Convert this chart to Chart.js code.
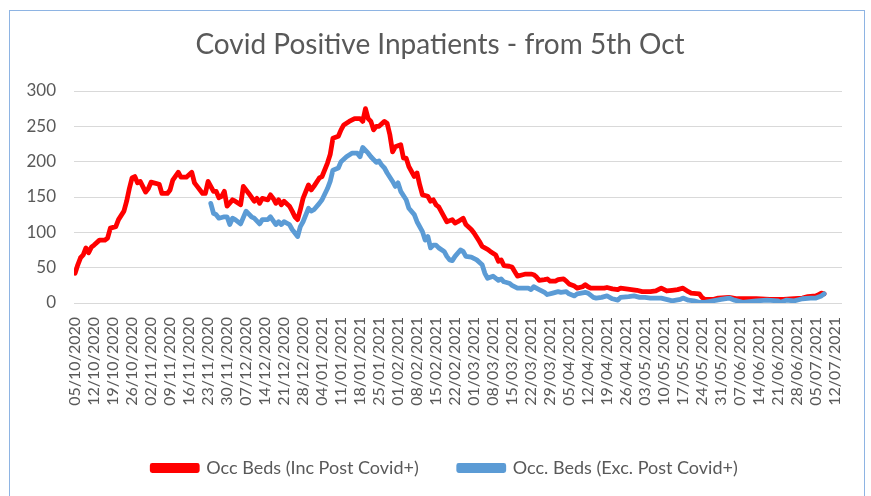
<!DOCTYPE html>
<html>
<head>
<meta charset="utf-8">
<script src="https://cdn.jsdelivr.net/npm/chart.js@4"></script>
<style>
  body { margin: 0; background: #fff; }
  #wrap { position: relative; width: 871px; height: 496px; overflow: hidden; }
  #frame { position: absolute; left: 9px; top: 10px; width: 854px; height: 520px; border: 1px solid #8eb4e3; pointer-events: none; }
</style>
</head>
<body>
<div id="wrap">
  <canvas id="bedsChart" width="871" height="496"></canvas>
  <div id="frame"></div>
</div>
<script>
// weekly axis labels (one every 7 days from 05/10/2020)
const weekLabels = ['05/10/2020','12/10/2020','19/10/2020','26/10/2020','02/11/2020','09/11/2020','16/11/2020',
  '23/11/2020','30/11/2020','07/12/2020','14/12/2020','21/12/2020','28/12/2020','04/01/2021','11/01/2021',
  '18/01/2021','25/01/2021','01/02/2021','08/02/2021','15/02/2021','22/02/2021','01/03/2021','08/03/2021',
  '15/03/2021','22/03/2021','29/03/2021','05/04/2021','12/04/2021','19/04/2021','26/04/2021','03/05/2021',
  '10/05/2021','17/05/2021','24/05/2021','31/05/2021','07/06/2021','14/06/2021','21/06/2021','28/06/2021',
  '05/07/2021','12/07/2021'];

// Occ Beds (Inc Post Covid+) : day since 05/10/2020 -> beds
const incDays = [0,1,2,3,4,5,6,7,9,11,12,13,15,16,18,19,20,21,22,23,24,26,27,28,29,31,32,34,35,36,38,39,41,43,44,45,
  47,48,49,51,52,53,54,55,56,58,59,61,62,64,66,67,68,69,71,72,73,74,75,76,77,79,80,81,82,83,84,86,87,88,90,91,93,94,
  95,97,98,99,101,103,105,106,107,108,109,110,111,112,114,115,116,117,118,120,121,122,123,125,126,127,128,130,131,
  132,133,134,136,137,139,140,141,143,144,146,147,148,149,150,152,153,155,156,157,158,160,161,163,165,166,168,169,
  170,171,173,174,175,177,178,180,181,182,184,185,187,188,189,190,192,195,196,198,200,201,203,205,207,209,212,214,
  216,218,220,222,224,226,227,230,231,232,235,237,241,244,247,251,256,261,265,268,270,273,274,275,276];
const incBeds = [42,54,64,68,78,71,79,82,89,89,92,106,108,118,130,144,162,177,179,170,172,157,162,171,170,168,155,155,160,174,185,178,178,185,170,165,
  155,155,172,158,158,149,151,158,137,146,144,139,165,155,144,148,141,148,146,153,148,141,146,139,144,137,130,122,118,132,148,167,160,165,177,179,198,210,
  233,236,245,252,257,261,261,257,275,261,257,245,250,250,257,254,238,214,221,224,205,205,193,179,184,167,153,151,144,
  146,139,136,122,115,118,113,115,120,111,104,99,93,87,80,76,73,68,59,61,53,52,51,38,40,41,41,40,
  37,32,33,34,31,31,33,34,31,27,24,21,23,26,23,21,21,21,22,20,19,21,20,19,18,16,16,17,
  21,17,18,19,21,16,14,13,8,5,5,7,8,6,6,6,5,5,6,7,9,10,12,14,13];

// Occ. Beds (Exc. Post Covid+) : starts 24/11/2020
const excDays = [50,51,52,53,55,56,57,58,59,61,63,65,66,68,69,71,72,74,75,76,77,79,80,82,83,84,86,87,88,90,91,93,94,95,
  97,98,100,102,104,105,106,108,109,111,112,113,114,115,117,118,119,120,122,123,125,126,128,129,130,131,132,133,134,
  136,137,138,139,140,142,143,144,146,148,150,151,152,154,156,157,158,160,161,163,165,167,168,169,171,173,174,176,
  178,179,181,182,184,185,188,189,191,192,194,196,198,200,201,204,206,208,210,212,216,219,220,223,224,226,228,230,
  232,235,238,241,243,246,251,255,259,260,262,265,268,271,273,275,276];
const excBeds = [141,127,125,120,122,122,111,120,118,112,130,122,120,112,118,118,122,111,115,111,115,111,104,94,108,115,134,130,132,141,146,162,172,188,
  191,200,207,212,212,207,220,212,207,199,201,195,191,184,172,165,170,158,146,134,125,115,101,89,94,78,82,82,78,
  73,66,61,60,66,75,73,66,65,61,54,42,35,38,32,34,30,28,25,21,21,21,19,23,19,15,12,14,
  16,15,16,13,10,13,15,14,8,7,8,10,6,4,8,9,10,8,8,7,7,4,3,5,7,4,3,1,
  1,3,5,7,4,1,3,4,3,1,4,3,6,7,7,10,13];

const yTicks = [0, 50, 100, 150, 200, 250, 300];

const FONT = 'Lato, "Liberation Sans", sans-serif';
const GREY = '#595959';

const toPoints = (days, vals) => days.map((d, i) => ({ x: d, y: vals[i] }));

// nudge title and legend to where Excel puts them
const boxShift = {
  id: 'boxShift',
  afterLayout(chart) {
    chart.titleBlock.left += 14;
    chart.titleBlock.right += 14;
    chart.legend.left += 19;
    chart.legend.right += 19;
  }
};

new Chart(document.getElementById('bedsChart'), {
  type: 'line',
  data: {
    datasets: [
      {
        label: 'Occ Beds (Inc Post Covid+)',
        data: toPoints(incDays, incBeds),
        borderColor: '#ff0000',
        backgroundColor: '#ff0000',
        borderWidth: 4.8,
        pointRadius: 0,
        borderJoinStyle: 'round',
        borderCapStyle: 'round',
        order: 2
      },
      {
        label: 'Occ. Beds (Exc. Post Covid+)',
        data: toPoints(excDays, excBeds),
        borderColor: '#5b9bd5',
        backgroundColor: '#5b9bd5',
        borderWidth: 4.8,
        pointRadius: 0,
        borderJoinStyle: 'round',
        borderCapStyle: 'round',
        order: 1
      }
    ]
  },
  plugins: [boxShift],
  options: {
    responsive: false,
    animation: false,
    layout: { padding: { left: 10, right: 29, top: 0, bottom: 9 } },
    plugins: {
      title: {
        display: true,
        text: 'Covid Positive Inpatients - from 5th Oct',
        color: GREY,
        font: { family: FONT, size: 28, weight: 'normal' },
        padding: { top: 28, bottom: 29.4 }
      },
      legend: {
        position: 'bottom',
        labels: {
          color: GREY,
          font: { family: FONT, size: 18 },
          boxWidth: 45,
          boxHeight: 5,
          padding: 40,
          sort: (a, b) => a.datasetIndex - b.datasetIndex
        }
      },
      tooltip: { enabled: false }
    },
    scales: {
      x: {
        type: 'linear',
        min: -0.4,
        max: 282.6,
        grid: { display: false },
        border: { display: false },
        afterBuildTicks: (scale) => { scale.ticks = weekLabels.map((_, i) => ({ value: i * 7 })); },
        afterFit: (scale) => { scale.height = 116; },
        ticks: {
          autoSkip: false,
          minRotation: 90,
          maxRotation: 90,
          padding: 6,
          color: GREY,
          font: { family: FONT, size: 16 },
          callback: (v) => weekLabels[Math.round(v / 7)]
        }
      },
      y: {
        min: 0,
        max: 300,
        afterBuildTicks: (scale) => { scale.ticks = yTicks.map(v => ({ value: v })); },
        afterFit: (scale) => { scale.width = 64; },
        grid: { color: '#d9d9d9', lineWidth: 1, drawTicks: false },
        border: { display: false },
        ticks: {
          padding: 18,
          color: GREY,
          font: { family: FONT, size: 17 }
        }
      }
    }
  }
});
</script>
</body>
</html>
